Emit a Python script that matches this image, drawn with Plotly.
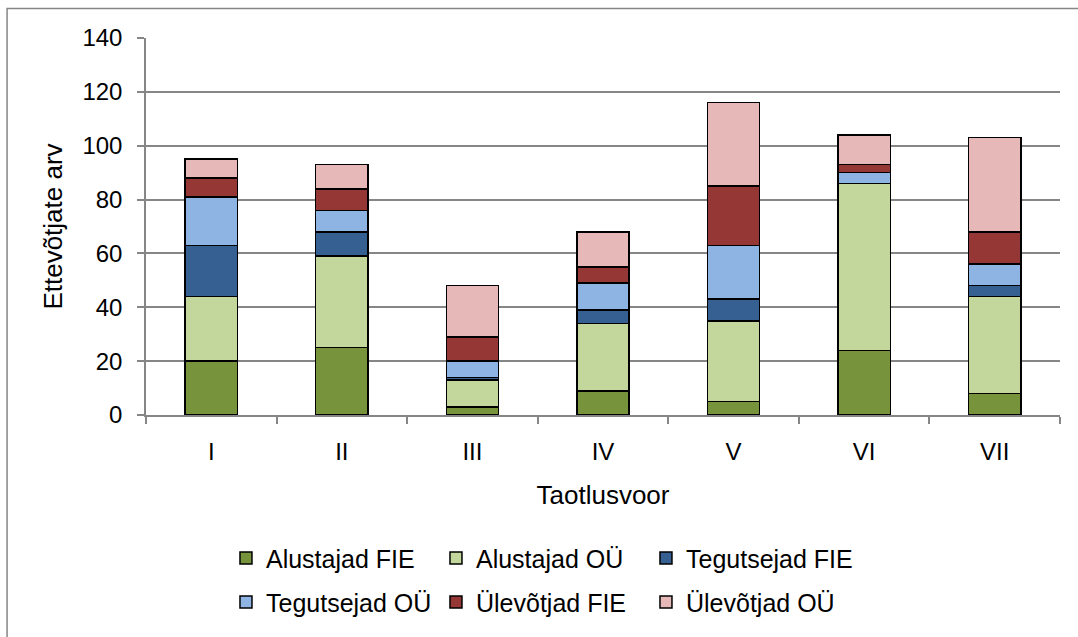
import plotly.graph_objects as go

# Taotlusvoorud ja ettevõtjate arv rühmade kaupa
voorud = ["I", "II", "III", "IV", "V", "VI", "VII"]
alustajad_fie = [20, 25, 3, 9, 5, 24, 8]
alustajad_ou = [24, 34, 10, 25, 30, 62, 36]
tegutsejad_fie = [19, 9, 1, 5, 8, 0, 4]
tegutsejad_ou = [18, 8, 6, 10, 20, 4, 8]
ulevotjad_fie = [7, 8, 9, 6, 22, 3, 12]
ulevotjad_ou = [7, 9, 19, 13, 31, 11, 35]

seeriad = [
    ("Alustajad FIE", alustajad_fie, "#77933C", "legend"),
    ("Alustajad OÜ", alustajad_ou, "#C3D69B", "legend"),
    ("Tegutsejad FIE", tegutsejad_fie, "#376092", "legend"),
    ("Tegutsejad OÜ", tegutsejad_ou, "#8EB4E3", "legend2"),
    ("Ülevõtjad FIE", ulevotjad_fie, "#953735", "legend2"),
    ("Ülevõtjad OÜ", ulevotjad_ou, "#E6B9B8", "legend2"),
]

fig = go.Figure()
for nimi, vaartused, varv, leg in seeriad:
    fig.add_trace(go.Bar(x=voorud, y=vaartused, name=nimi, legend=leg,
                         marker=dict(color=varv, line=dict(color="black", width=1.5))))

font = dict(family="Liberation Sans, Arial, sans-serif", size=24, color="black")
grid = "#868686"

fig.update_xaxes(title_text="Taotlusvoor", title_font_size=26, title_standoff=22,
                 automargin=False,
                 showline=True, linecolor=grid, linewidth=1.5,
                 ticks="outside", tickcolor=grid, ticklen=7, tickwidth=1.5,
                 tickson="boundaries", ticklabelstandoff=14)
fig.update_yaxes(title_text="Ettevõtjate arv", title_font_size=26, title_standoff=12,
                 automargin=False,
                 range=[0, 140], dtick=20, showgrid=True, gridcolor=grid, gridwidth=1.5,
                 showline=True, linecolor=grid, linewidth=1.5, zeroline=False,
                 ticks="outside", tickcolor=grid, ticklen=7, tickwidth=1.5,
                 ticklabelstandoff=10)

leg_style = dict(orientation="h", xanchor="left", yanchor="middle",
                 font=dict(font, size=25), bgcolor="rgba(0,0,0,0)", traceorder="normal",
                 itemwidth=30, entrywidth=165, entrywidthmode="pixels")

fig.update_layout(
    barmode="stack", bargap=0.6,
    width=1078, height=637,
    font=font,
    plot_bgcolor="white", paper_bgcolor="white",
    margin=dict(l=146, r=18, t=38, b=215),
    legend=dict(x=0.0875, y=-0.380, **leg_style),
    legend2=dict(x=0.0875, y=-0.497, **leg_style),
    shapes=[dict(type="rect", xref="paper", yref="paper",
                 x0=-0.152, x1=1.05, y0=-0.7, y1=1.078,
                 line=dict(color=grid, width=1.5), layer="below")],
)

# body veeris ära, et joonis täidaks akna täpselt
fig.write_html("out.html", config={"displayModeBar": False},
               post_script="document.body.style.margin='0';document.body.style.overflow='hidden';")
